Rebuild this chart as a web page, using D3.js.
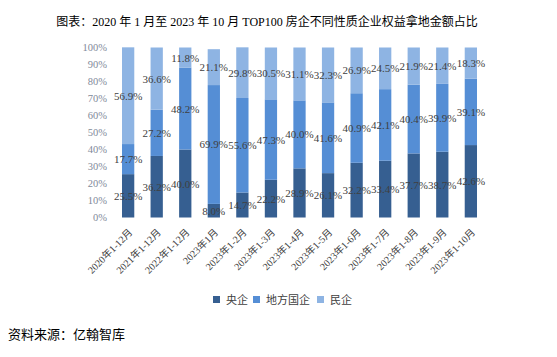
<!DOCTYPE html>
<html><head><meta charset="utf-8">
<script src="https://cdn.jsdelivr.net/npm/d3@7"></script>
<style>body{margin:0;background:#fff}svg{display:block}</style>
</head><body>
<svg id="c" width="557" height="357"></svg>
<script>
const categories = ["2020年1-12月","2021年1-12月","2022年1-12月","2023年1月","2023年1-2月","2023年1-3月","2023年1-4月","2023年1-5月","2023年1-6月","2023年1-7月","2023年1-8月","2023年1-9月","2023年1-10月"];
const seriesNames = ["央企","地方国企","民企"];
const central = [25.5,36.2,40.0,8.0,14.7,22.2,28.9,26.1,32.2,33.4,37.7,38.7,42.6];
const localSOE = [17.7,27.2,48.2,69.9,55.6,47.3,40.0,41.6,40.9,42.1,40.4,39.9,39.1];
const privateCo = [56.9,36.6,11.8,21.1,29.8,30.5,31.1,32.3,26.9,24.5,21.9,21.4,18.3];
const yTicks = [0,10,20,30,40,50,60,70,80,90,100];
const titleText = "图表：2020 年 1 月至 2023 年 10 月 TOP100 房企不同性质企业权益拿地金额占比";
const sourceText = "资料来源：亿翰智库";
const colors = ["#365f91","#558ed5","#8eb4e3"];

const svg = d3.select("#c");
const serif = "'Liberation Serif','Times New Roman','Noto Sans CJK SC',serif";
const cjk = "'Liberation Serif','Noto Sans CJK SC',serif";

const x = d3.scaleBand().domain(categories).range([114, 485]).paddingInner(0.57).paddingOuter(0.28);
const y = d3.scaleLinear().domain([0,100]).range([217.5, 47.5]);

const rows = categories.map((c,i)=>({cat:c, "央企":central[i], "地方国企":localSOE[i], "民企":privateCo[i]}));
const stack = d3.stack().keys(seriesNames)(rows);

// title
svg.append("text").attr("x",267).attr("y",26).attr("text-anchor","middle")
  .style("font-family",cjk).style("font-size","12px").attr("fill","#000").text(titleText);

// y axis
const yAxis = d3.axisLeft(y).tickValues(yTicks).tickFormat(d=>d+"%").tickSize(0).tickPadding(0);
const ga = svg.append("g").attr("transform","translate(107,0)").call(yAxis);
ga.select(".domain").remove();
ga.selectAll("text").style("font-family",serif).style("font-size","10.5px").attr("fill","#7f8a9a");

// bars
const layers = svg.append("g").selectAll("g").data(stack).join("g").attr("fill",(d,i)=>colors[i]);
layers.selectAll("rect").data(d=>d).join("rect")
  .attr("x",d=>x(d.data.cat)).attr("width",x.bandwidth())
  .attr("y",d=>y(d[1])).attr("height",d=>y(d[0])-y(d[1]));

// labels
const lg = svg.append("g");
stack.forEach((s)=>{
  s.forEach(d=>{
    lg.append("text").attr("x",x(d.data.cat)+x.bandwidth()/2).attr("y",y((d[0]+d[1])/2)+4)
      .attr("text-anchor","middle").style("font-family",serif).style("font-size","11px")
      .attr("fill","#404040").text(d.data[s.key].toFixed(1)+"%");
  });
});

// x axis labels
const xAxis = d3.axisBottom(x).tickSize(0).tickPadding(0);
const gx = svg.append("g").attr("transform","translate(0,224)").call(xAxis);
gx.select(".domain").remove();
gx.selectAll("text").attr("text-anchor","end").attr("dy",0).attr("y",0)
  .attr("transform","translate(5,9) rotate(-45)")
  .style("font-family",cjk).style("font-size","10px").attr("fill","#404040");

// legend
const legX = [213,253,317];
seriesNames.forEach((n,i)=>{
  svg.append("rect").attr("x",legX[i]).attr("y",296).attr("width",7).attr("height",7).attr("fill",colors[i]);
  svg.append("text").attr("x",legX[i]+13).attr("y",304).style("font-family",cjk).style("font-size","11px")
    .attr("fill","#404040").text(n);
});

// source
svg.append("text").attr("x",8).attr("y",339).style("font-family",cjk).style("font-size","13px")
  .attr("fill","#000").text(sourceText);
</script>
</body></html>
